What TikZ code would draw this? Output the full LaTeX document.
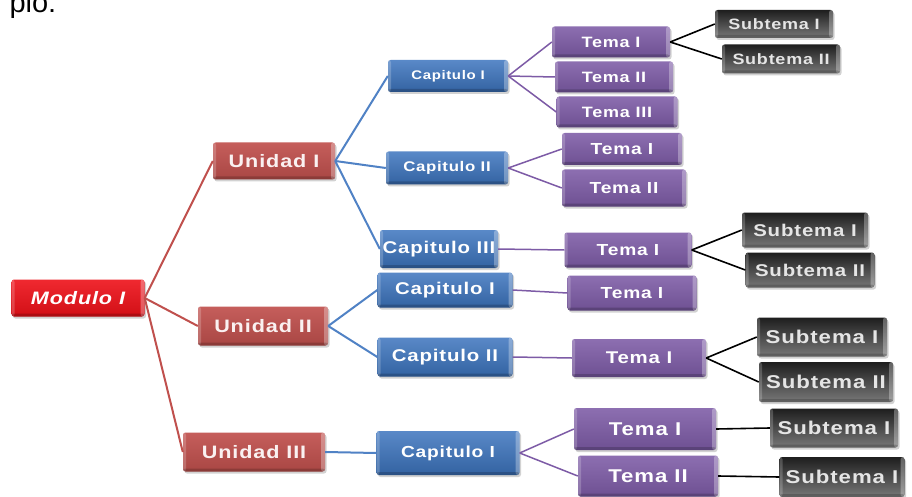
\documentclass[tikz,border=0pt]{standalone}
\usepackage{fontspec}
\setmainfont{Liberation Sans}
\newfontfamily\boxfont[FakeStretch=1.2,LetterSpace=5]{Liberation Sans}
\usetikzlibrary{shadows}
\definecolor{modred}{HTML}{EE1119}
\definecolor{unired}{HTML}{C0504D}
\definecolor{capblue}{HTML}{3C74BE}
\definecolor{temapur}{HTML}{7D5BA6}
\definecolor{subgray}{HTML}{1E1E1E}
\tikzset{
  x=1pt, y=-1pt,
  txtsize/.style={font=\boxfont\bfseries\fontsize{#1}{#1}\selectfont},
  bevel/.style={path picture={
    \fill[white,opacity=0.30] ([xshift=-4pt]path picture bounding box.north east) rectangle (path picture bounding box.south east);
    \fill[white,opacity=0.20] (path picture bounding box.north west) rectangle ([xshift=3pt]path picture bounding box.south west);
    \fill[black,opacity=0.18] ([yshift=3pt]path picture bounding box.south west) rectangle (path picture bounding box.south east);
  }},
  basebox/.style={rectangle, rounded corners=2.5pt, inner sep=0pt, text=white, bevel,
    drop shadow={shadow xshift=1.5pt, shadow yshift=-2pt, opacity=0.35}},
  modbox/.style={basebox, top color=modred!90!white, bottom color=modred!88!black, font=\boxfont\bfseries\itshape\fontsize{18}{18}\selectfont},
  unibox/.style={basebox, top color=unired!92!white, bottom color=unired!88!black, text=white!92!unired},
  capbox/.style={basebox, top color=capblue!85!white, bottom color=capblue!85!black},
  temabox/.style={basebox, top color=temapur!88!white, bottom color=temapur!88!black},
  subbox/.style={basebox, top color=subgray, bottom color=subgray!60!white, text=white!90!black},
  redline/.style={draw=unired, line width=2pt},
  blueline/.style={draw=capblue!90!white, line width=2pt},
  purline/.style={draw=temapur, line width=1.5pt},
  blkline/.style={draw=black, line width=1.6pt},
}
\begin{document}
\begin{tikzpicture}
\useasboundingbox[fill=white] (0,0) rectangle (912,497);
\node[anchor=base west, font=\fontsize{29}{29}\selectfont, text=black] (intro) at (6,13) {plo:};

% Nodes
\node[modbox, minimum width=133pt, minimum height=37pt] (mod) at (78,298) {Modulo I};

\node[unibox, txtsize=18, minimum width=122pt, minimum height=37pt] (u1) at (274,161) {Unidad I};
\node[unibox, txtsize=18, minimum width=130pt, minimum height=39pt] (u2) at (263,326) {Unidad II};
\node[unibox, txtsize=18, minimum width=142pt, minimum height=39pt] (u3) at (254,452) {Unidad III};

\node[capbox, txtsize=12.5, minimum width=120pt, minimum height=32pt] (c11) at (448,76) {Capitulo I};
\node[capbox, txtsize=14, minimum width=122pt, minimum height=33pt] (c12) at (447,168) {Capitulo II};
\node[capbox, txtsize=17, minimum width=118pt, minimum height=38pt] (c13) at (439,249) {Capitulo III};
\node[capbox, txtsize=17, minimum width=135pt, minimum height=35pt] (c21) at (445,290) {Capitulo I};
\node[capbox, txtsize=17, minimum width=135pt, minimum height=39pt] (c22) at (445,357) {Capitulo II};
\node[capbox, txtsize=16, minimum width=143pt, minimum height=44pt] (c31) at (448,453) {Capitulo I};

\node[temabox, txtsize=15, minimum width=118pt, minimum height=31pt] (t111) at (611,42) {Tema I};
\node[temabox, txtsize=15, minimum width=118pt, minimum height=31pt] (t112) at (614,77) {Tema II};
\node[temabox, txtsize=15, minimum width=121pt, minimum height=31pt] (t113) at (617,112) {Tema III};
\node[temabox, txtsize=16, minimum width=120pt, minimum height=32pt] (t121) at (622,149) {Tema I};
\node[temabox, txtsize=16, minimum width=124pt, minimum height=37pt] (t122) at (624,188) {Tema II};
\node[temabox, txtsize=16, minimum width=127pt, minimum height=35pt] (t131) at (628,250) {Tema I};
\node[temabox, txtsize=16, minimum width=129pt, minimum height=35pt] (t211) at (632,293) {Tema I};
\node[temabox, txtsize=17, minimum width=134pt, minimum height=38pt] (t221) at (639,358) {Tema I};
\node[temabox, txtsize=18.5, minimum width=142pt, minimum height=42pt] (t311) at (645,429) {Tema I};
\node[temabox, txtsize=18.5, minimum width=140pt, minimum height=41pt] (t312) at (648,476) {Tema II};

\node[subbox, txtsize=15, minimum width=118pt, minimum height=28pt] (s1) at (774,24) {Subtema I};
\node[subbox, txtsize=15, minimum width=118pt, minimum height=29pt] (s2) at (781,59) {Subtema II};
\node[subbox, txtsize=17, minimum width=126pt, minimum height=35pt] (s3) at (805,230) {Subtema I};
\node[subbox, txtsize=17, minimum width=129pt, minimum height=35pt] (s4) at (810,270) {Subtema II};
\node[subbox, txtsize=18.5, minimum width=130pt, minimum height=39pt] (s5) at (822,337) {Subtema I};
\node[subbox, txtsize=18.5, minimum width=134pt, minimum height=40pt] (s6) at (826,382) {Subtema II};
\node[subbox, txtsize=18.5, minimum width=128pt, minimum height=39pt] (s7) at (834,428) {Subtema I};
\node[subbox, txtsize=18.5, minimum width=125pt, minimum height=40pt] (s8) at (842,477) {Subtema I};

% Connectors
\draw[redline] (mod.east) -- (u1.west);
\draw[redline] (mod.east) -- (u2.west);
\draw[redline] (mod.east) -- (u3.west);

\draw[blueline] (u1.east) -- (c11.west);
\draw[blueline] (u1.east) -- (c12.west);
\draw[blueline] (u1.east) -- (c13.west);
\draw[blueline] (u2.east) -- (c21.west);
\draw[blueline] (u2.east) -- (c22.west);
\draw[blueline] (u3.east) -- (c31.west);

\draw[purline] (c11.east) -- (t111.west);
\draw[purline] (c11.east) -- (t112.west);
\draw[purline] (c11.east) -- (t113.west);
\draw[purline] (c12.east) -- (t121.west);
\draw[purline] (c12.east) -- (t122.west);
\draw[purline] (c13.east) -- (t131.west);
\draw[purline] (c21.east) -- (t211.west);
\draw[purline] (c22.east) -- (t221.west);
\draw[purline] (c31.east) -- (t311.west);
\draw[purline] (c31.east) -- (t312.west);

\draw[blkline] (t111.east) -- (s1.west);
\draw[blkline] (t111.east) -- (s2.west);
\draw[blkline] (t131.east) -- (s3.west);
\draw[blkline] (t131.east) -- (s4.west);
\draw[blkline] (t221.east) -- (s5.west);
\draw[blkline] (t221.east) -- (s6.west);
\draw[blkline] (t311.east) -- (s7.west);
\draw[blkline] (t312.east) -- (s8.west);
\end{tikzpicture}
\end{document}
